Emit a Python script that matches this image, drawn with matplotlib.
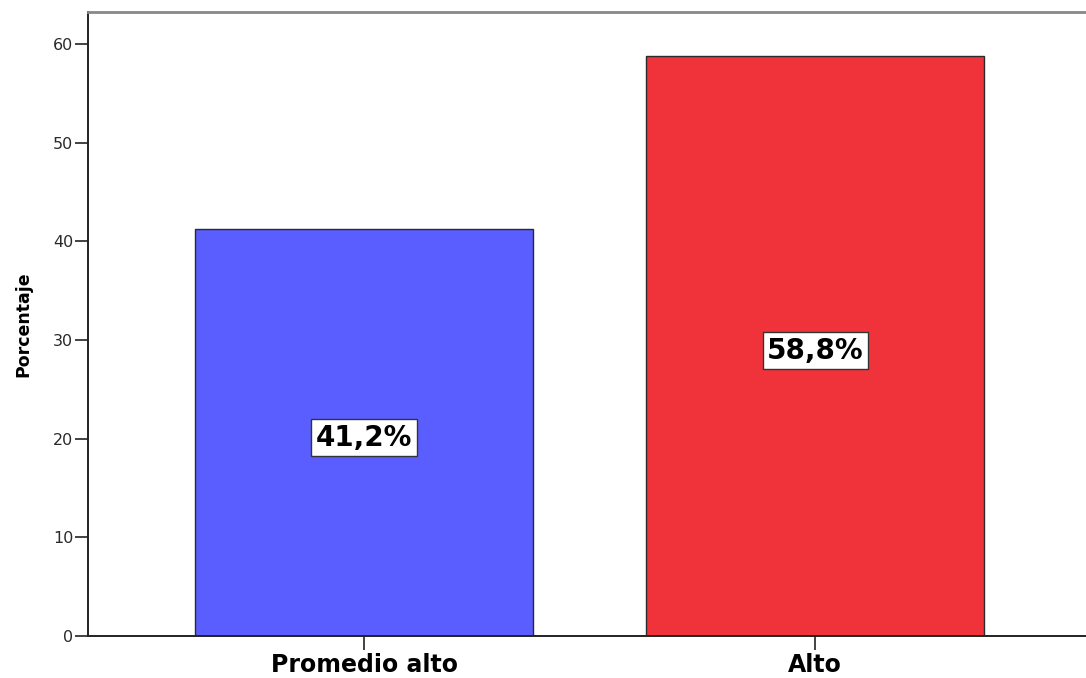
import matplotlib
matplotlib.use("Agg")
import matplotlib.pyplot as plt

categories = ["Promedio alto", "Alto"]
values = [41.2, 58.8]
value_labels = ["41,2%", "58,8%"]
bar_colors = ["#5B5EFF", "#F0333B"]
yticks = [0, 10, 20, 30, 40, 50, 60]

plt.rcParams['font.family'] = ['DejaVu Sans']

W, H = 1086, 678
fig = plt.figure(figsize=(W / 100, H / 100), dpi=100)
# axes: left spine x=88, bottom y=636, top y=12, extends past right edge
ax = fig.add_axes([88 / W, (H - 636) / H, 1 - 88 / W, (636 - 12) / H])

x = list(range(len(categories)))
ax.bar(x, values, width=0.75, color=bar_colors, edgecolor="#2a2a2a", linewidth=1.0, zorder=2)

for xi, v, lab in zip(x, values, value_labels):
    ax.text(xi, v / 2 - 0.5, lab, ha="center", va="center", fontsize=20, fontweight="bold",
            color="black", zorder=3,
            bbox=dict(boxstyle="square,pad=0.16", facecolor="white", edgecolor="#333333", linewidth=1.0))

ax.set_xlim(-0.612, 1.6)
ax.set_ylim(0, 63.24)
ax.set_yticks(yticks)
ax.set_yticklabels([str(t) for t in yticks], fontsize=11.5, color="#2a2a2a")
ax.set_xticks(x)
ax.set_xticklabels(categories, fontsize=17, fontweight="bold")
ax.tick_params(axis="y", length=9.5, width=1.2, color="#222222", pad=1)
ax.tick_params(axis="x", length=10, width=1.2, color="#222222", pad=2)
ax.set_ylabel("Porcentaje", fontsize=12.5, fontweight="bold", labelpad=15)

ax.spines["right"].set_visible(False)
ax.spines["top"].set_color("#888888")
ax.spines["top"].set_linewidth(2)
ax.spines["left"].set_color("#222222")
ax.spines["left"].set_linewidth(1.4)
ax.spines["bottom"].set_color("#222222")
ax.spines["bottom"].set_linewidth(1.4)

fig.savefig("out.png", dpi=100)
